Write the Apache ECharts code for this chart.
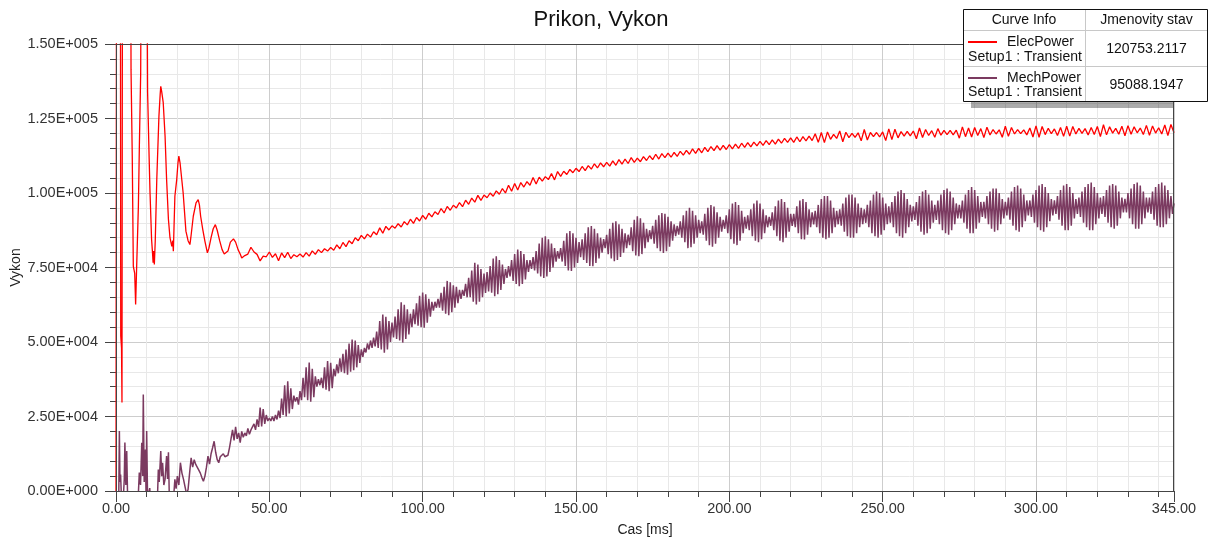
<!DOCTYPE html>
<html><head><meta charset="utf-8">
<script src="https://cdn.jsdelivr.net/npm/echarts/dist/echarts.min.js"></script>
<style>html,body{margin:0;padding:0;background:#fff}#c{width:1215px;height:538px}</style>
</head><body><div id="c"></div>
<script>
const chartTitle = 'Prikon, Vykon';
const xName = 'Cas [ms]';
const yName = 'Vykon';
const xMin = 0, xMax = 345, xMajor = 50, xMinor = 10;
const yMin = 0, yMax = 150000, yMajor = 25000;
const seriesNames = ['ElecPower', 'MechPower'];
const legendSub = 'Setup1 : Transient';
const legendHeader = ['Curve Info', 'Jmenovity stav'];
const legendValues = ['120753.2117', '95088.1947'];

// ElecPower: irregular samples during the start-up transient
const elecEarlyT = [0,0.2,1.4,1.55,1.8,1.95,2.15,4.7,4.9,5.3,5.65,6.1,6.4,6.74,7.3,7.6,8.05,8.4,9.9,10.3,10.8,11.1,11.6,11.9,12.1,12.3,12.5,12.8,13.3,14.0,14.4,14.6,14.9,15.4,16.0,16.5,17.1,17.6,18.2,18.5,18.7,19.2,19.8,20.2,20.5,20.9,21.4,21.9,22.8,23.5,24.1,24.4,25.2,26.1,26.8,27.2,27.6,28.3,29.0,29.8,30.3,31.0,31.7,32.4,33.0,33.8,34.6,35.3,35.9,36.5,37.3,38.3,39.0,39.8,40.5];
const elecEarlyV = [0,230000,230000,52000,48000,29700,230000,230000,141400,112400,75400,73000,62600,75400,95600,114600,140300,230000,230000,134000,112000,100000,84500,80000,76600,80500,76000,84000,104500,125800,133000,135800,134000,130300,119100,104500,91100,85000,82100,84000,80500,98900,104500,110000,112400,110000,109600,100000,87200,84000,82700,85000,92200,96700,97800,96000,92200,87700,83800,79900,81500,85000,88000,89400,87500,84000,81000,79500,79400,80500,83500,84600,83500,81000,79500];
// ElecPower: samples every 1 ms from 41 ms
const elecStart = 41, elecStep = 1;
const elecValues = [
78200,79000,79500,81800,80200,79400,77200,78800,78600,80200,
78400,79600,77300,79900,78300,80100,78000,79300,78600,79500,
78500,80000,78800,80600,79400,81000,80000,81300,80500,81700,
80800,82600,81300,83400,82000,84000,83000,85000,84000,85800,
84600,86200,85200,87000,86000,88300,86500,88800,87600,89000,
88200,89700,88600,90400,89300,91200,89800,91800,90600,92500,
91200,93200,92000,93700,92800,94800,93300,95500,94200,95900,
95000,96800,95400,97600,96200,98300,96900,99200,97500,99300,
98400,100000,98900,100700,99600,101500,100000,102600,100600,103200,
101000,103500,102000,103800,102600,105200,103000,105300,104000,105500,
104500,106500,104400,107200,105600,107300,106200,107900,106800,108300,
107200,108900,107500,109200,108000,109800,108400,110100,108800,110300,
109000,110800,109300,111200,109700,111400,109900,111900,110300,111700,
110500,112200,110900,112500,111200,113000,111400,113200,111900,113400,
112000,113600,112300,114000,112700,114300,113000,114800,113300,115000,
113500,115300,113900,115600,114200,115900,114400,116000,114600,116200,
114800,116400,115000,116700,115300,116900,115500,117100,115800,117300,
116000,117600,116200,117800,116400,118100,116700,118300,117000,118500,
117000,118800,117200,118900,117500,119100,117600,119900,117000,120300,
116900,120500,118000,119700,118300,120800,117200,120400,118600,120000,
118700,120200,117500,121300,117800,120300,118900,120300,118800,120500,
117600,121500,117900,121400,118500,120600,119100,120700,119200,120800,
118200,121800,118600,121300,119300,120900,118700,121600,119400,121000,
119600,121000,119500,121100,118400,122200,118900,121800,118800,122000,
119300,121600,118600,122100,119500,121300,119800,121200,118700,122400,
119000,122000,119800,121300,119900,121200,119500,121800,118800,122500,
118700,122300,119600,121700,119900,121500,119300,122000,119000,122400,
119100,122300,119800,121700,120000,121600,119500,122000,119600,122300,
118900,122900,119500,122200,120100,121700,119700,122400,119200,122600,
119700,122200,120200,121800,119600,122700,119400,122500,120100,121900,
119800,122800,119300,123000,120200];

// MechPower: irregular samples during the start-up transient
const mechEarlyT = [0,0.5,0.9,1.1,1.3,1.5,1.8,2.4,2.7,2.9,3.2,3.5,3.8,7.2,7.6,8.0,8.4,8.7,8.9,9.2,9.6,9.8,10.0,10.3,11.0,11.2,13.5,13.8,14.1,14.6,14.9,15.2,15.6,16.0,16.5,16.8,17.1,17.4,18.8,19.2,19.6,20.0,20.5];
const mechEarlyV = [0,-3000,-2000,20100,3000,5500,-3000,-2000,4000,16300,2000,13400,-3000,-3000,6200,2000,16200,5000,32400,3000,13900,-2000,20100,-3000,1000,-3000,-3000,7200,3000,13400,5000,9500,2000,3900,11700,4000,13000,-3000,-2000,3900,800,5000,2000];
// MechPower: samples every 0.5 ms from 21 ms
const mechStart = 21, mechStep = 0.5;
const mechValues = [
9500,6000,4000,1500,-1000,500,6000,11100,8000,10500,
8900,9500,7000,6000,4500,3300,5000,8000,11700,9000,
12500,14500,16700,13000,10500,9500,11500,11100,12500,11500,
11100,12000,14500,17500,20500,17000,21500,17500,19500,16200,
20000,18000,19500,18500,21000,19000,20500,20000,22500,20500,
24000,21500,28000,21700,27500,22500,25500,23500,24500,23500,
25000,23500,25500,24000,27000,24500,31000,25500,35500,25000,
36800,26000,34500,27500,32000,30000,31500,29000,33500,30500,
38000,31500,41500,30500,43100,30000,41000,31500,38500,35000,
37500,35500,38000,34500,41500,34000,43600,33500,43000,34500,
41000,38500,42500,39500,44500,40000,46000,39500,47500,39000,
49500,40000,50800,40500,50500,41500,49000,43000,47500,45000,
48000,46500,49500,47500,50500,48000,51500,48500,53500,48000,
57000,47500,59200,46400,58500,47500,57000,50000,56500,51500,
58500,51000,61000,50500,63300,49800,62500,51000,61000,52500,
59500,55000,61000,56000,63000,55500,65500,55000,66600,54800,
66000,56500,64500,58500,63500,60500,63500,61500,64500,61500,
66500,60500,68500,59500,70500,59000,70000,60000,69000,61500,
68500,63000,67500,64500,67500,65500,69500,65000,71500,65000,
74000,63500,76600,62600,76000,63500,74500,65000,73000,66500,
73500,67000,75500,66500,78000,65400,78800,66000,77500,67500,
76000,69500,74500,71500,75500,72000,77500,70500,79500,69500,
81000,68700,80500,69500,79500,71000,77500,73500,77500,74500,
78500,74000,80500,73000,83000,72000,85000,71500,85500,72000,
84500,73500,83000,75000,81500,77000,80500,78000,81500,77000,
84000,75500,86500,74000,87200,73800,86500,75000,85000,76500,
83500,78500,84500,77500,86500,76500,88500,75500,88900,75400,
88000,76500,86500,78000,85000,80000,84500,81500,86000,79500,
88000,78000,90000,77100,90500,77500,89500,78500,88000,80000,
86500,81500,86000,82500,88500,80500,91000,79000,92200,78800,
91500,79500,90000,81500,88000,83500,87500,84500,89000,83000,
91000,81500,92500,80500,93300,79900,93000,80500,92000,82000,
90500,84000,89500,85500,89000,86000,90500,85000,92500,83500,
94000,81500,95000,81800,94000,83000,92500,85000,91000,86500,
90500,86000,93000,84000,95000,82500,96000,82000,95500,83000,
93500,85000,92000,87000,91000,88000,92500,86500,94500,84500,
96500,83000,97000,82500,96000,84000,94000,86500,92000,88000,
92500,87500,94500,85500,96500,84000,97500,83500,96500,84500,
94500,86500,92500,88500,92000,89000,93500,87500,95500,85500,
97500,84000,98000,83500,97000,85000,95000,87000,93000,89000,
93000,88500,95500,86500,97500,84500,98000,84400,97000,86000,
94500,88500,93500,89500,94000,88500,96000,86500,98000,85000,
99000,84500,99000,85000,97500,86500,95000,88500,94000,89500,
94500,89000,96500,87000,98500,85500,99500,85000,99500,85000,
98500,86500,96500,88500,95000,89500,94500,90000,96000,88500,
97500,86500,99500,85500,100500,85000,100000,86000,98500,87500,
96500,89500,95500,90000,97000,88500,99000,86500,100500,85500,
101000,85000,100000,86500,98000,88500,96000,90500,95500,91000,
97000,89000,99000,87000,100500,86000,101000,86500,99500,88000,
97500,90000,96000,91000,97500,89500,99500,87500,101000,86500,
101500,86000,100500,87500,98500,89500,96500,91500,96000,91500,
97500,90000,99500,88000,101000,86500,102000,86500,101000,88000,
99000,90000,97000,92000,97000,91500,99000,89500,100500,88000,
101500,87000,101500,87500,100000,89500,98000,91500,97000,92500,
98500,91000,100500,89000,102000,87500,102500,87000,101500,88500,
99500,90500,97500,92500,97500,92000,99500,90000,101000,88500,
102500,87500,103000,87000,102000,88500,100000,90500,98000,92500,
97500,93000,99000,91000,101000,89000,102500,87500,103000,87500,
102000,89000,100000,91500,98000,93000,98500,92000,100500,90000,
102000,88500,103000,87500,103500,87500,102000,89500,100000,91500,
98500,93000,99000,92000,101000,90000,102500,88500,103000,88000,
102500,89000,100500,91500,98500,93500,98000,93500,100000,91500,
101500,89500,103000,88000,103500,88000,102500,89500,100500,91500,
98500,93500,98500,93000,100500,91000,102000,89000,103000,88500,
103500,88500,102500,89500,101000,91500,99000,93000,96500];

const elecColor = '#ff0000';
const mechColor = '#7b3a60';

function pairs(tEarly, vEarly, start, step, vals) {
  const out = [];
  for (let i = 0; i < tEarly.length; i++) out.push([tEarly[i], vEarly[i]]);
  for (let i = 0; i < vals.length; i++) out.push([+(start + i * step).toFixed(2), vals[i]]);
  return out;
}
function sci(v) {
  if (v === 0) return '0.00E+000';
  const e = Math.floor(Math.log10(v) + 1e-9);
  const m = v / Math.pow(10, e);
  return m.toFixed(2) + 'E+' + String(e).padStart(3, '0');
}

const FONT = '"Liberation Sans", Arial, sans-serif';
const axisCol = '#444';
const majorGrid = '#cdcdcd';
const minorGrid = '#e8e8e8';

const chart = echarts.init(document.getElementById('c'), null, {renderer: 'canvas'});
chart.setOption({
  animation: false,
  backgroundColor: '#fff',
  grid: {left: 116, right: 41, top: 44, bottom: 47, containLabel: false, outerBoundsMode: 'none'},
  xAxis: [
    {type: 'value', min: xMin, max: xMax, interval: xMinor, position: 'bottom',
     axisLine: {show: false}, axisLabel: {show: false},
     axisTick: {show: true, length: 6, lineStyle: {color: axisCol}},
     splitLine: {show: true, lineStyle: {color: minorGrid, width: 1}}},
    {type: 'value', min: xMin, max: xMax, interval: xMajor, position: 'bottom',
     name: xName, nameLocation: 'middle', nameGap: 32,
     nameTextStyle: {fontFamily: FONT, fontSize: 14, color: '#222'},
     axisLine: {show: true, lineStyle: {color: axisCol, width: 1}},
     axisTick: {show: true, length: 11, lineStyle: {color: axisCol}},
     axisLabel: {formatter: v => v.toFixed(2), margin: 10, fontFamily: FONT, fontSize: 14.5, color: '#333'},
     splitLine: {show: true, lineStyle: {color: majorGrid, width: 1}}}
  ],
  yAxis: [{
    type: 'value', min: yMin, max: yMax, interval: yMajor, position: 'left',
    name: yName, nameLocation: 'middle', nameGap: 93, nameRotate: 90, nameMoveOverlap: false,
    nameTextStyle: {fontFamily: FONT, fontSize: 14, color: '#222'},
    axisLine: {show: true, lineStyle: {color: axisCol, width: 1}},
    axisTick: {show: true, length: 11, lineStyle: {color: axisCol}},
    minorTick: {show: true, splitNumber: 5, length: 6, lineStyle: {color: axisCol}},
    minorSplitLine: {show: true, lineStyle: {color: minorGrid, width: 1}},
    splitLine: {show: true, lineStyle: {color: majorGrid, width: 1}},
    axisLabel: {formatter: sci, margin: 18, fontFamily: FONT, fontSize: 14.5, color: '#333'}
  }],
  series: [
    {name: seriesNames[1], type: 'line', xAxisIndex: 1, yAxisIndex: 0,
     data: pairs(mechEarlyT, mechEarlyV, mechStart, mechStep, mechValues),
     showSymbol: false, symbol: 'none', clip: true, sampling: null,
     lineStyle: {color: mechColor, width: 1.5}, itemStyle: {color: mechColor}, z: 3},
    {name: seriesNames[0], type: 'line', xAxisIndex: 1, yAxisIndex: 0,
     data: pairs(elecEarlyT, elecEarlyV, elecStart, elecStep, elecValues),
     showSymbol: false, symbol: 'none', clip: true, sampling: null,
     lineStyle: {color: elecColor, width: 1.3}, itemStyle: {color: elecColor}, z: 4}
  ],
  graphic: [
    {type: 'rect', z: 50, silent: true, shape: {x: 116.5, y: 44.5, width: 1057, height: 447},
     style: {fill: 'none', stroke: axisCol, lineWidth: 1}},
    {type: 'text', z: 50, x: 601, y: 20,
     style: {text: chartTitle, fontFamily: FONT, fontSize: 22, fill: '#111', textAlign: 'center', textVerticalAlign: 'middle'}},
    // legend table
    {type: 'rect', z: 60, shape: {x: 971, y: 102, width: 202, height: 6}, style: {fill: 'rgba(0,0,0,0.33)'}},
    {type: 'rect', z: 61, shape: {x: 963.5, y: 9.5, width: 244, height: 92}, style: {fill: '#fff', stroke: '#111', lineWidth: 1}},
    {type: 'line', z: 62, shape: {x1: 1085.5, y1: 10, x2: 1085.5, y2: 101}, style: {stroke: '#c8c8c8', lineWidth: 1}},
    {type: 'line', z: 62, shape: {x1: 964, y1: 30.5, x2: 1207, y2: 30.5}, style: {stroke: '#c8c8c8', lineWidth: 1}},
    {type: 'line', z: 62, shape: {x1: 964, y1: 66.5, x2: 1207, y2: 66.5}, style: {stroke: '#c8c8c8', lineWidth: 1}},
    {type: 'text', z: 63, x: 1024, y: 20.5, style: {text: legendHeader[0], fontFamily: FONT, fontSize: 14, fill: '#111', textAlign: 'center', textVerticalAlign: 'middle'}},
    {type: 'text', z: 63, x: 1146.5, y: 20.5, style: {text: legendHeader[1], fontFamily: FONT, fontSize: 14, fill: '#111', textAlign: 'center', textVerticalAlign: 'middle'}},
    {type: 'line', z: 63, shape: {x1: 968, y1: 42, x2: 997, y2: 42}, style: {stroke: elecColor, lineWidth: 2}},
    {type: 'text', z: 63, x: 1007, y: 42.5, style: {text: seriesNames[0], fontFamily: FONT, fontSize: 14, fill: '#111', textAlign: 'left', textVerticalAlign: 'middle'}},
    {type: 'text', z: 63, x: 1025, y: 57, style: {text: legendSub, fontFamily: FONT, fontSize: 14, fill: '#111', textAlign: 'center', textVerticalAlign: 'middle'}},
    {type: 'text', z: 63, x: 1146.5, y: 49.5, style: {text: legendValues[0], fontFamily: FONT, fontSize: 14, fill: '#111', textAlign: 'center', textVerticalAlign: 'middle'}},
    {type: 'line', z: 63, shape: {x1: 968, y1: 78, x2: 997, y2: 78}, style: {stroke: mechColor, lineWidth: 2}},
    {type: 'text', z: 63, x: 1007, y: 78.5, style: {text: seriesNames[1], fontFamily: FONT, fontSize: 14, fill: '#111', textAlign: 'left', textVerticalAlign: 'middle'}},
    {type: 'text', z: 63, x: 1025, y: 92.5, style: {text: legendSub, fontFamily: FONT, fontSize: 14, fill: '#111', textAlign: 'center', textVerticalAlign: 'middle'}},
    {type: 'text', z: 63, x: 1146.5, y: 85, style: {text: legendValues[1], fontFamily: FONT, fontSize: 14, fill: '#111', textAlign: 'center', textVerticalAlign: 'middle'}}
  ]
});
</script>
</body></html>
